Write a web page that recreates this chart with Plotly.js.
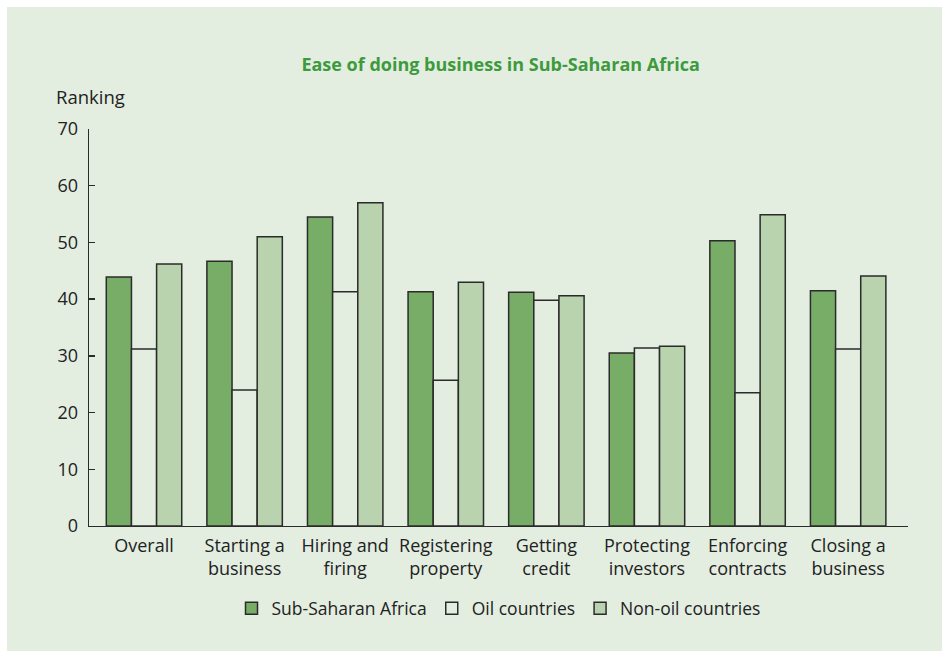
<!DOCTYPE html>
<html>
<head>
<meta charset="utf-8">
<script src="https://cdn.plot.ly/plotly-3.0.1.min.js"></script>
<style>
html,body{margin:0;padding:0;background:#ffffff;}
#chart{position:absolute;left:7px;top:7px;width:935px;height:644px;}
</style>
</head>
<body>
<div id="chart"></div>
<script>
const categories = ["Overall", "Starting a<br>business", "Hiring and<br>firing", "Registering<br>property", "Getting<br>credit", "Protecting<br>investors", "Enforcing<br>contracts", "Closing a<br>business"];
const subSaharan = [43.9, 46.7, 54.5, 41.3, 41.2, 30.5, 50.3, 41.5];
const oilCountries = [31.2, 24.0, 41.3, 25.7, 39.8, 31.4, 23.5, 31.2];
const nonOilCountries = [46.2, 51.0, 57.0, 43.0, 40.6, 31.7, 54.9, 44.1];
const yTicks = [0, 10, 20, 30, 40, 50, 60, 70];

const FONT = "Open Sans, sans-serif";
const bg = "#e3eee1";
const line = {color: "#2b2b2b", width: 1.5};

const traces = [
  {type: "bar", name: "Sub-Saharan Africa", x: categories, y: subSaharan, marker: {color: "#78ad67", line: line}},
  {type: "bar", name: "Oil countries", x: categories, y: oilCountries, marker: {color: bg, line: line}},
  {type: "bar", name: "Non-oil countries", x: categories, y: nonOilCountries, marker: {color: "#b8d3ae", line: line}}
];

const layout = {
  width: 935, height: 644,
  paper_bgcolor: bg, plot_bgcolor: bg,
  margin: {l: 82, r: 34, t: 122, b: 125},
  font: {family: FONT, size: 18, color: "#222222"},
  title: {text: "<b>Ease of doing business in Sub-Saharan Africa</b>", font: {family: FONT, size: 18, color: "#3d9a3d"}, x: 0.528, xanchor: "center", y: 0.91, yanchor: "middle"},
  barmode: "group",
  bargap: 0.25,
  bargroupgap: 0,
  xaxis: {type: "category", range: [-0.547, 7.595], showline: true, linecolor: "#2b2b2b", linewidth: 1.3, ticks: "", showgrid: false, zeroline: false, tickfont: {family: FONT, size: 18, color: "#222"}, ticklabelstandoff: 3, fixedrange: true},
  yaxis: {range: [0, 70], tickvals: yTicks, ticktext: yTicks.map(String), showline: true, linecolor: "#2b2b2b", linewidth: 1.3, ticks: "inside", ticklen: 6, tickcolor: "#2b2b2b", tickwidth: 1.3, showgrid: false, zeroline: false, tickfont: {family: FONT, size: 18, color: "#222"}, ticklabelstandoff: 6},
  showlegend: true,
  legend: {orientation: "h", x: 0.5, xanchor: "center", y: -0.162, yanchor: "top", font: {family: FONT, size: 17.5, color: "#222"}, bgcolor: "rgba(0,0,0,0)", traceorder: "normal", itemwidth: 30},
  annotations: [
    {text: "Ranking", xref: "paper", yref: "paper", x: -0.043, y: 1.082, xanchor: "left", yanchor: "middle", showarrow: false, font: {family: FONT, size: 18.5, color: "#222"}}
  ]
};

Plotly.newPlot("chart", traces, layout, {displayModeBar: false, staticPlot: true});
</script>
</body>
</html>
